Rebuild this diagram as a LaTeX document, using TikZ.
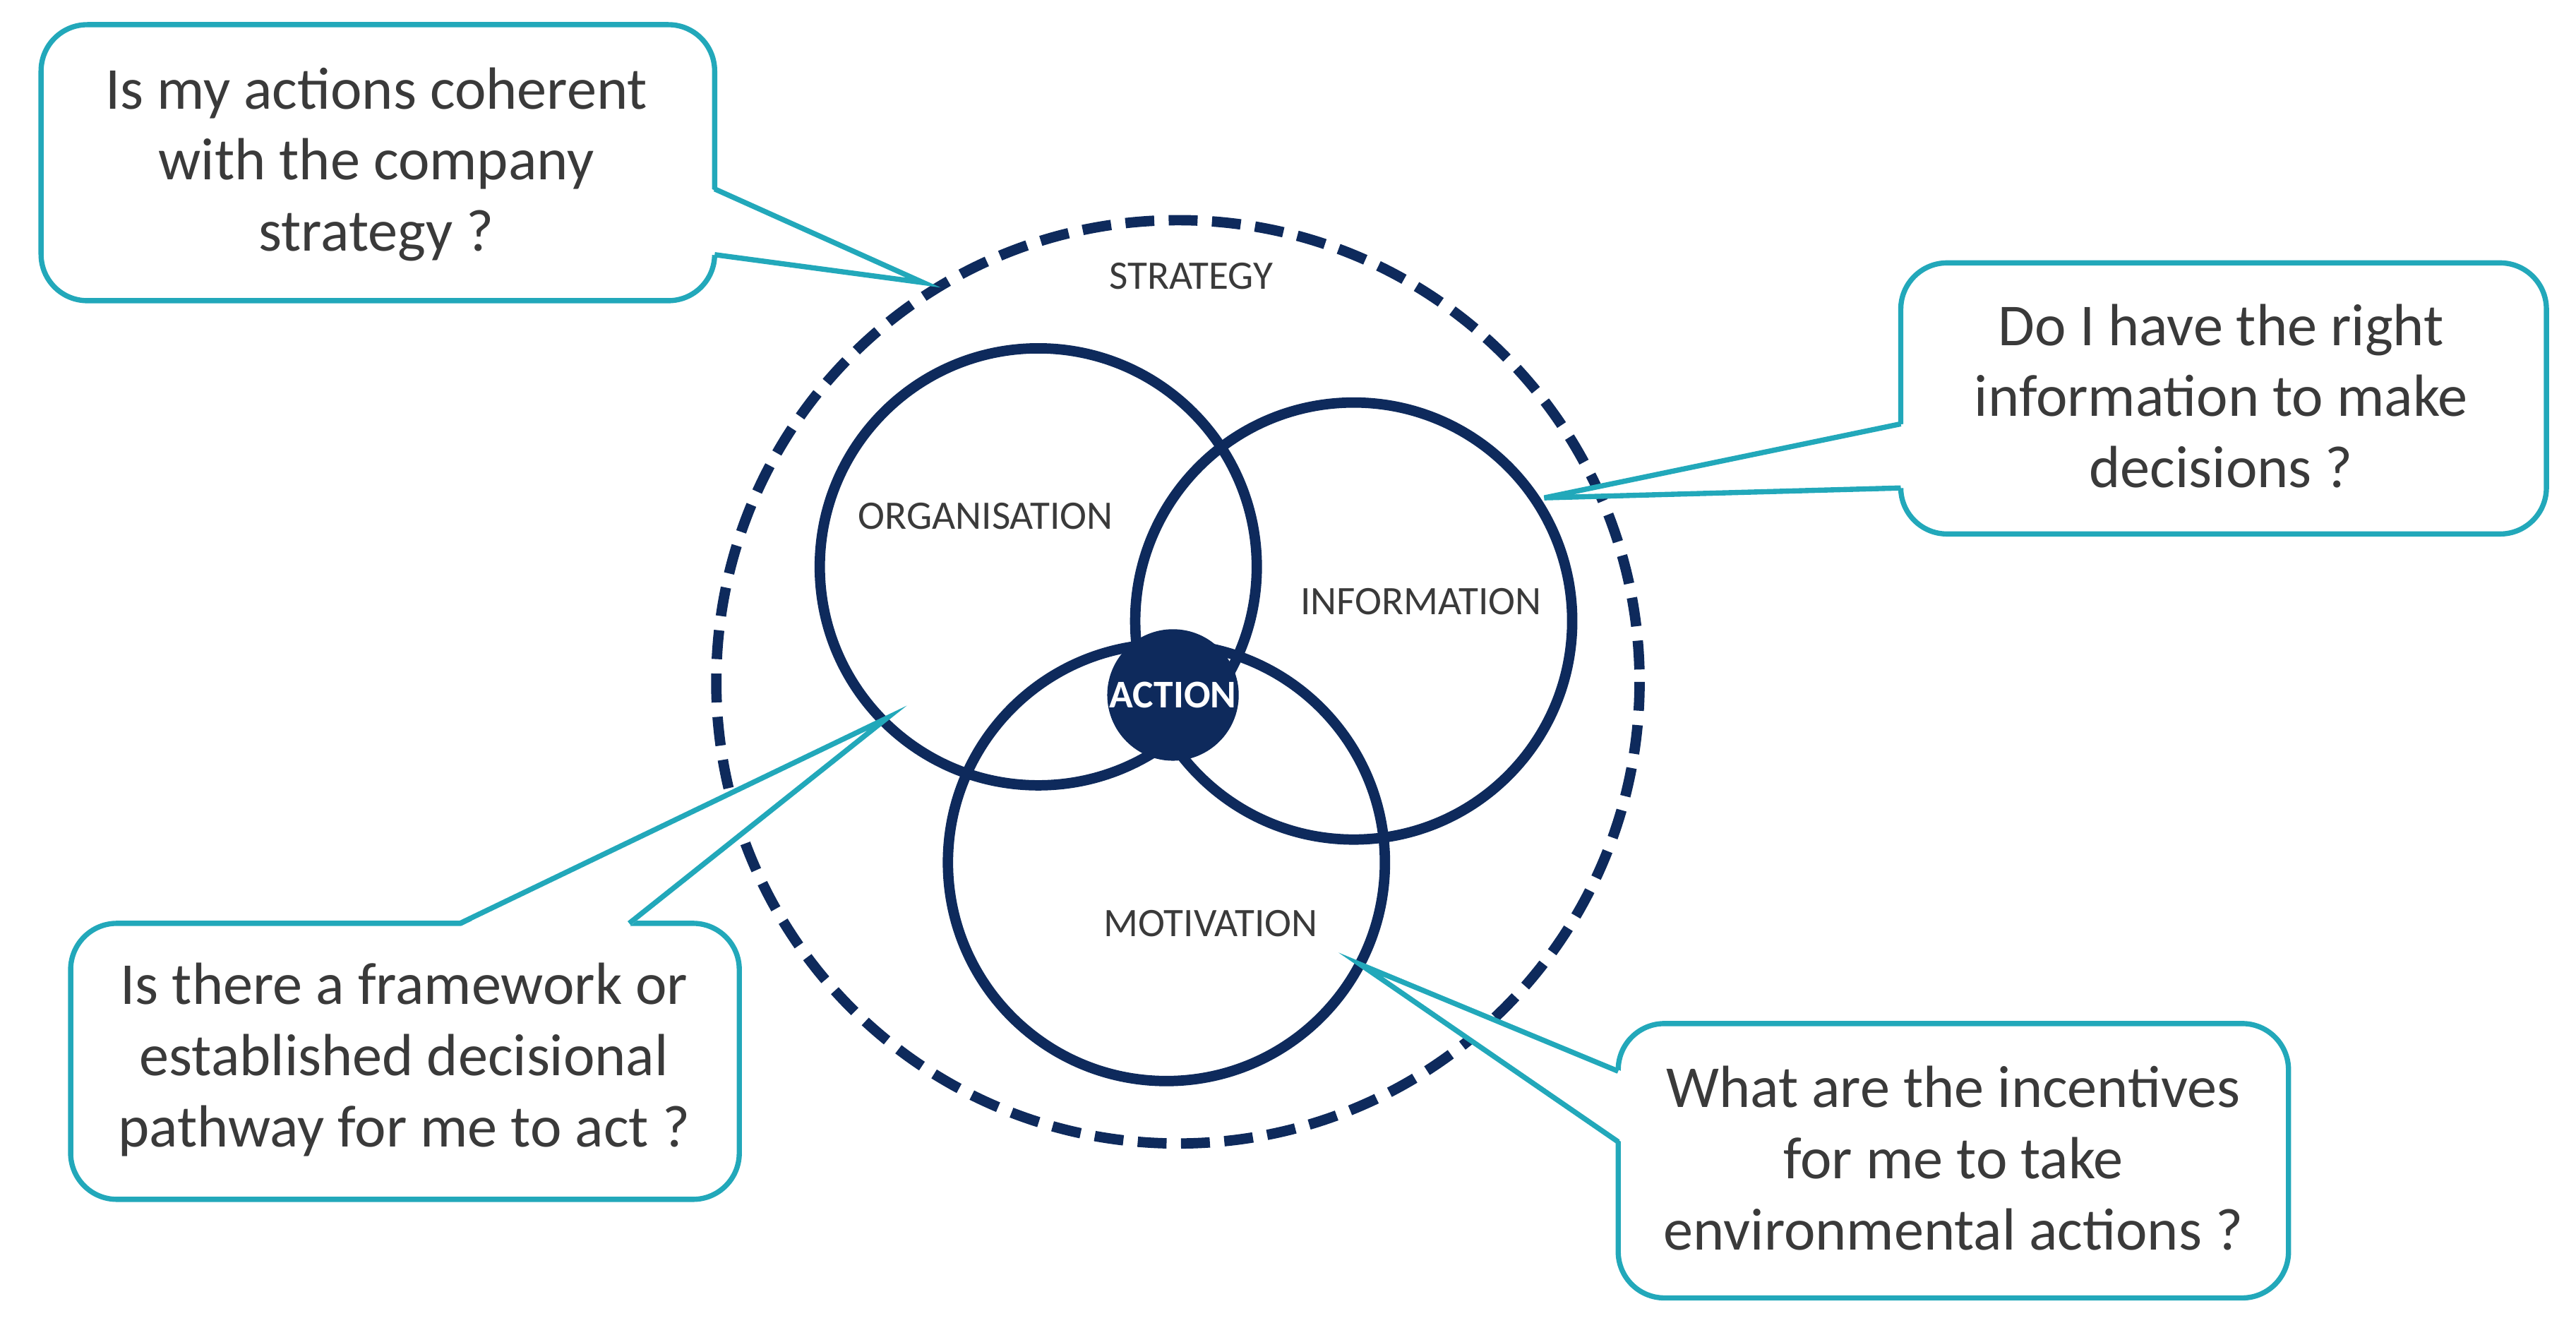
\documentclass[tikz,border=0pt]{standalone}
\usepackage{fontspec}
\setmainfont{Carlito}
\definecolor{navy}{HTML}{0E2A5C}
\definecolor{teal}{HTML}{22A8BA}
\definecolor{txt}{HTML}{3A3A3A}
\begin{document}
\begin{tikzpicture}[x=0.01cm,y=-0.01cm,
  ring/.style={draw=navy,line width=1.8pt},
  lab/.style={text=txt,font=\fontsize{7}{8}\selectfont},
  box/.style={draw=teal,line width=0.9pt,rounded corners=8pt,fill=white},
  ptr/.style={draw=teal,line width=0.9pt},
  btxt/.style={text=txt,align=center,font=\fontsize{10.3}{12.3}\selectfont}]
\useasboundingbox (0,0) rectangle (1568,805);
\draw[navy,line width=1.8pt,dash pattern=on 5pt off 2.5pt] (717,415) circle (281);
\node[lab] (strat) at (725,168) {STRATEGY};
\draw[ring] (632,345) circle (133);
\draw[ring] (824,378) circle (133);
\draw[ring] (710,525) circle (133);
\node[circle,fill=navy,minimum size=0.8cm,inner sep=0,text=white,font=\bfseries\fontsize{6.8}{8}\selectfont] (act) at (714,423) {ACTION};
\node[lab] (org) at (600,314) {ORGANISATION};
\node[lab] (inf) at (865,366) {INFORMATION};
\node[lab] (mot) at (737,562) {MOTIVATION};
% callout 1
\draw[box] (25,15) rectangle (435,183);
\coordinate (t1) at (562,172);
\fill[white] (433,115) -- (t1) -- (433,155) -- cycle;
\draw[ptr] (435,115) -- (t1) -- (435,155);
\node[btxt] (c1) at (229,100) {Is my actions coherent\\with the company\\strategy ?};
% callout 2
\draw[box] (1157,160) rectangle (1550,325);
\coordinate (t2) at (940,303);
\fill[white] (1159,258) -- (t2) -- (1159,297) -- cycle;
\draw[ptr] (1157,258) -- (t2) -- (1157,297);
\node[btxt] (c2) at (1352,241) {Do I have the right\\information to make\\decisions ?};
% callout 3
\draw[box] (43,562) rectangle (450,730);
\coordinate (t3) at (540,437);
\fill[white] (280,564) -- (t3) -- (383,564) -- cycle;
\draw[ptr] (280,562) -- (t3) -- (383,562);
\node[btxt] (c3) at (246,645) {Is there a framework or\\established decisional\\pathway for me to act ?};
% callout 4
\draw[box] (985,623) rectangle (1393,790);
\coordinate (t4) at (828,587);
\fill[white] (987,652) -- (t4) -- (987,695) -- cycle;
\draw[ptr] (985,652) -- (t4) -- (985,695);
\node[btxt] (c4) at (1189,705) {What are the incentives\\for me to take\\environmental actions ?};
\end{tikzpicture}
\end{document}
